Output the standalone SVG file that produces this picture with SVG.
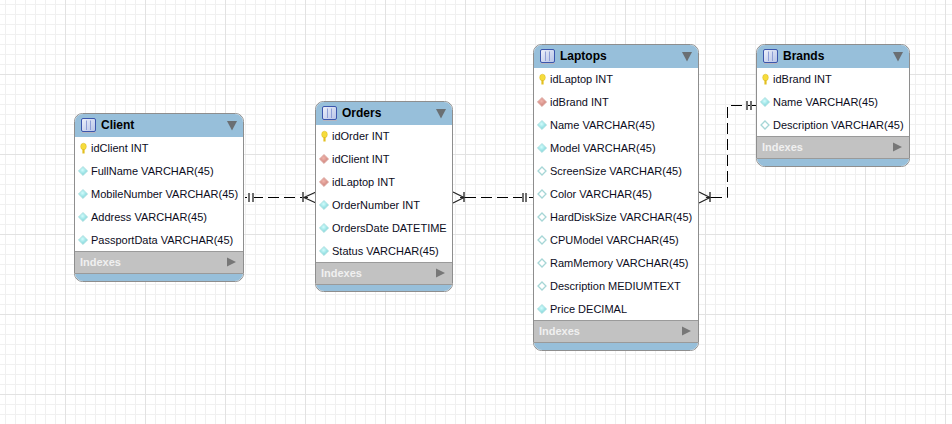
<svg xmlns="http://www.w3.org/2000/svg" width="952" height="424" viewBox="0 0 952 424">
<style>
text{font-family:"Liberation Sans",Arial,sans-serif;font-size:11px;fill:#0c0c1c}
.title{font-weight:bold;font-size:12px;fill:#000}
.idx{font-weight:bold;font-size:11px;fill:#f0f0f0}
.body{fill:#fff;stroke:#8e8e8e;stroke-width:1}
.hdr{fill:#97bfda}
.ix{fill:#c2c2c2}
.sep{stroke:#9a9a9a;stroke-width:1;fill:none}
.tri{fill:#6a6f73}
.trir{fill:#777}
.conn{fill:none;stroke:#000;stroke-width:1}
.crow{fill:none;stroke:#222;stroke-width:1.200}
.dash{stroke-dasharray:11 5}
.bar{stroke:#6e6e6e;stroke-width:2;fill:none}
</style>
<defs>
<pattern id="minor" width="10" height="10" patternUnits="userSpaceOnUse" x="5" y="4"><path d="M.5 0V10M0 .5H10" fill="none" stroke="#f0f0f0"/></pattern>
<pattern id="major" width="80" height="80" patternUnits="userSpaceOnUse" x="65" y="74"><path d="M.5 0V80M0 .5H80" fill="none" stroke="#e2e2e2"/></pattern>
<linearGradient id="tg" x1="0" y1="0" x2="1" y2="1"><stop offset="0" stop-color="#eef1fa"/><stop offset="1" stop-color="#b6c3e6"/></linearGradient>
<radialGradient id="cy" cx=".45" cy=".4" r=".7"><stop offset="0" stop-color="#d2fcfc"/><stop offset="1" stop-color="#69cbd0"/></radialGradient>
<radialGradient id="rd" cx=".45" cy=".4" r=".7"><stop offset="0" stop-color="#f0b4ac"/><stop offset="1" stop-color="#c4766e"/></radialGradient>
<g id="ticon"><rect x=".5" y=".5" width="14" height="13" rx="1.5" fill="url(#tg)" stroke="#3b56ad"/><path d="M5.500 2.500V12M9.500 2.500V12" stroke="#8f9fd6"/><path d="M1 14.500H15" stroke="#b5b5c0"/></g>
<g id="key"><ellipse cx="3.500" cy="3.500" rx="2.800" ry="3.300" fill="#f6dc3c" stroke="#d9b820" stroke-width=".5"/><path d="M3.500 6V10.500" stroke="#e2bf20" stroke-width="2.200"/></g>
<path id="dc" d="M0-4.600 4.600 0 0 4.600-4.600 0Z" fill="url(#cy)" stroke="#b4dfe0" stroke-width=".8"/>
<path id="dr" d="M0-4.600 4.600 0 0 4.600-4.600 0Z" fill="url(#rd)" stroke="#deb0aa" stroke-width=".8"/>
<path id="dw" d="M0-4 4 0 0 4-4 0Z" fill="#fff" stroke="#a6d6d6" stroke-width="1.300"/>
</defs>
<rect width="952" height="424" fill="#fff"/>
<rect width="952" height="424" fill="url(#minor)"/>
<rect width="952" height="424" fill="url(#major)"/>

<g id="connectors">
<path class="conn dash" d="M245 197.500H303" stroke-dashoffset="9"/>
<path class="bar" d="M249 193V202M253 193V202"/>
<path class="bar" d="M303 192V202"/>
<path class="crow" d="M316 192 304 197.500 316 203M304 197.500H308"/>
<path class="conn dash" d="M465 197.500H533"/>
<path class="bar" d="M464 192V202M523 193V202M526 193V202"/>
<path class="crow" d="M453 192 464 197.500 453 203M460 197.500H464"/>
<path class="conn dash" d="M711 197.500H727.500V105.500H757"/>
<path class="bar" d="M710 192V202M747 101V110M751 101V110"/>
<path class="crow" d="M699 192 710 197.500 699 203M706 197.500H710"/>
</g>

<g id="client">
<rect class="body" x="74.500" y="113.500" width="169" height="168" rx="8"/>
<path class="hdr" d="M75 137V122a8 8 0 0 1 8-8H235a8 8 0 0 1 8 8V137Z"/>
<path class="hdr" d="M75 273H243a8 8 0 0 1-8 8H83a8 8 0 0 1-8-8Z"/>
<rect class="ix" x="75" y="251" width="168" height="22"/>
<path class="sep" d="M75 251.500H243M75 273.500H243"/>
<use href="#ticon" x="81" y="118"/>
<text class="title" x="101" y="129">Client</text>
<path class="tri" d="M227 121H237L232 130.500Z"/>
<use href="#key" x="80" y="143"/>
<text x="91" y="152">idClient INT</text>
<use href="#dc" x="83" y="171"/><text x="91" y="175">FullName VARCHAR(45)</text>
<use href="#dc" x="83" y="194"/><text x="91" y="198">MobileNumber VARCHAR(45)</text>
<use href="#dc" x="83" y="217"/><text x="91" y="221">Address VARCHAR(45)</text>
<use href="#dc" x="83" y="240"/><text x="91" y="244">PassportData VARCHAR(45)</text>
<text class="idx" x="80" y="266">Indexes</text>
<path class="trir" d="M227 257.500 236 262 227 266.500Z"/>
</g>

<g id="orders">
<rect class="body" x="315.500" y="101.500" width="137" height="190" rx="8"/>
<path class="hdr" d="M316 125V110a8 8 0 0 1 8-8H444a8 8 0 0 1 8 8V125Z"/>
<path class="hdr" d="M316 284H452a8 8 0 0 1-8 7H324a8 8 0 0 1-8-7Z"/>
<rect class="ix" x="316" y="262" width="136" height="22"/>
<path class="sep" d="M316 262.500H452M316 284.500H452"/>
<use href="#ticon" x="322" y="106"/>
<text class="title" x="342" y="117">Orders</text>
<path class="tri" d="M436 109H446L441 118.500Z"/>
<use href="#key" x="321" y="131"/>
<text x="332" y="140">idOrder INT</text>
<use href="#dr" x="324" y="159"/><text x="332" y="163">idClient INT</text>
<use href="#dr" x="324" y="182"/><text x="332" y="186">idLaptop INT</text>
<use href="#dc" x="324" y="205"/><text x="332" y="209">OrderNumber INT</text>
<use href="#dc" x="324" y="228"/><text x="332" y="232">OrdersDate DATETIME</text>
<use href="#dc" x="324" y="251"/><text x="332" y="255">Status VARCHAR(45)</text>
<text class="idx" x="321" y="277">Indexes</text>
<path class="trir" d="M436 268.500 445 273 436 277.500Z"/>
</g>

<g id="laptops">
<rect class="body" x="533.500" y="44.500" width="165" height="306" rx="8"/>
<path class="hdr" d="M534 68V53a8 8 0 0 1 8-8H690a8 8 0 0 1 8 8V68Z"/>
<path class="hdr" d="M534 342H698a8 8 0 0 1-8 8H542a8 8 0 0 1-8-8Z"/>
<rect class="ix" x="534" y="320" width="164" height="22"/>
<path class="sep" d="M534 320.500H698M534 342.500H698"/>
<use href="#ticon" x="540" y="49"/>
<text class="title" x="560" y="60">Laptops</text>
<path class="tri" d="M682 52H692L687 61.500Z"/>
<use href="#key" x="539" y="74"/>
<text x="550" y="83">idLaptop INT</text>
<use href="#dr" x="542" y="102"/><text x="550" y="106">idBrand INT</text>
<use href="#dc" x="542" y="125"/><text x="550" y="129">Name VARCHAR(45)</text>
<use href="#dc" x="542" y="148"/><text x="550" y="152">Model VARCHAR(45)</text>
<use href="#dw" x="542" y="171"/><text x="550" y="175">ScreenSize VARCHAR(45)</text>
<use href="#dw" x="542" y="194"/><text x="550" y="198">Color VARCHAR(45)</text>
<use href="#dw" x="542" y="217"/><text x="550" y="221">HardDiskSize VARCHAR(45)</text>
<use href="#dw" x="542" y="240"/><text x="550" y="244">CPUModel VARCHAR(45)</text>
<use href="#dw" x="542" y="263"/><text x="550" y="267">RamMemory VARCHAR(45)</text>
<use href="#dw" x="542" y="286"/><text x="550" y="290">Description MEDIUMTEXT</text>
<use href="#dc" x="542" y="309"/><text x="550" y="313">Price DECIMAL</text>
<text class="idx" x="539" y="335">Indexes</text>
<path class="trir" d="M682 326.500 691 331 682 335.500Z"/>
</g>

<g id="brands">
<rect class="body" x="756.500" y="44.500" width="153" height="122" rx="8"/>
<path class="hdr" d="M757 68V53a8 8 0 0 1 8-8H901a8 8 0 0 1 8 8V68Z"/>
<path class="hdr" d="M757 158H909a8 8 0 0 1-8 8H765a8 8 0 0 1-8-8Z"/>
<rect class="ix" x="757" y="136" width="152" height="22"/>
<path class="sep" d="M757 136.500H909M757 158.500H909"/>
<use href="#ticon" x="763" y="49"/>
<text class="title" x="783" y="60">Brands</text>
<path class="tri" d="M893 52H903L898 61.500Z"/>
<use href="#key" x="762" y="74"/>
<text x="773" y="83">idBrand INT</text>
<use href="#dc" x="765" y="102"/><text x="773" y="106">Name VARCHAR(45)</text>
<use href="#dw" x="765" y="125"/><text x="773" y="129">Description VARCHAR(45)</text>
<text class="idx" x="762" y="151">Indexes</text>
<path class="trir" d="M893 142.500 902 147 893 151.500Z"/>
</g>
</svg>
